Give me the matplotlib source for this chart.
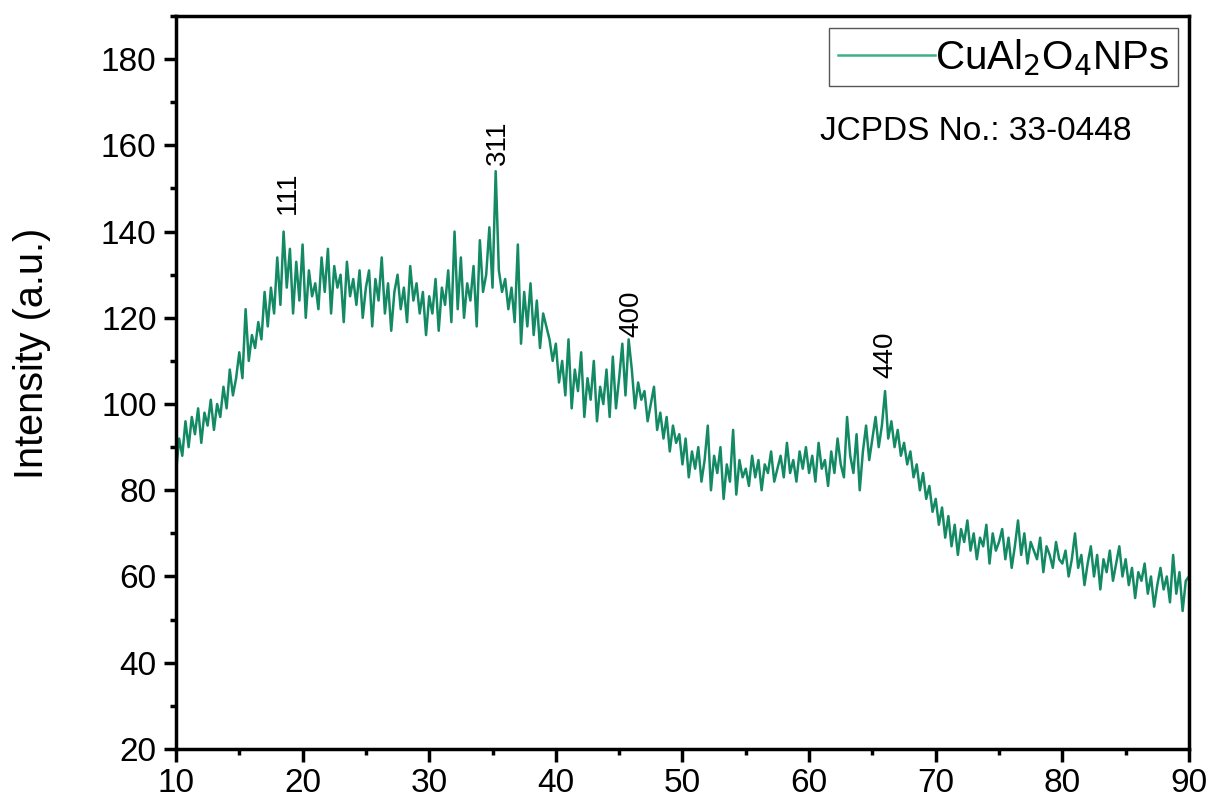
import numpy as np
import matplotlib.pyplot as plt
from matplotlib.ticker import MultipleLocator

plt.rcParams['font.family'] = ['Liberation Sans', 'DejaVu Sans']

# 2theta grid, 0.25 deg step from 10 to 90
two_theta = np.arange(10, 90.001, 0.25)

# intensity, one row per 5 degrees
intensity = [
    84, 92, 88, 96, 90, 97, 93, 99, 91, 98, 95, 101, 94, 100, 97, 104, 99, 108, 102, 106,
    112, 106, 122, 110, 116, 113, 119, 115, 126, 118, 127, 121, 134, 123, 140, 127, 136, 121, 133, 124,
    137, 120, 131, 125, 128, 122, 134, 126, 136, 121, 132, 127, 130, 119, 133, 125, 129, 123, 131, 120,
    127, 131, 118, 129, 124, 134, 121, 128, 117, 126, 130, 122, 127, 119, 132, 124, 128, 121, 126, 116,
    125, 121, 129, 117, 127, 123, 131, 119, 140, 122, 134, 120, 128, 124, 132, 118, 138, 126, 130, 141,
    127, 154, 131, 126, 129, 122, 127, 119, 137, 114, 126, 118, 128, 116, 124, 113, 121, 118, 115, 110,
    114, 105, 110, 102, 115, 99, 108, 103, 112, 97, 106, 101, 110, 96, 104, 100, 108, 97, 111, 99,
    106, 114, 102, 115, 108, 99, 105, 101, 103, 96, 100, 104, 94, 98, 92, 97, 89, 95, 91, 93,
    86, 92, 83, 89, 85, 90, 82, 87, 95, 80, 88, 84, 90, 78, 86, 82, 94, 79, 87, 83,
    85, 81, 88, 83, 87, 80, 86, 84, 89, 82, 85, 88, 83, 91, 84, 87, 82, 89, 85, 90,
    84, 88, 82, 91, 85, 87, 81, 89, 84, 92, 86, 83, 97, 88, 84, 93, 80, 89, 95, 87,
    92, 97, 90, 95, 103, 92, 96, 90, 94, 88, 91, 86, 89, 83, 86, 80, 84, 78, 81, 75,
    78, 72, 76, 69, 74, 67, 72, 65, 71, 68, 73, 66, 70, 64, 69, 67, 72, 63, 70, 66,
    68, 71, 64, 69, 62, 67, 73, 65, 70, 63, 68, 66, 64, 69, 61, 67, 65, 62, 68, 64,
    63, 66, 60, 64, 70, 62, 65, 58, 63, 67, 60, 65, 57, 64, 61, 66, 59, 63, 67, 60,
    64, 58, 62, 55, 61, 59, 63, 56, 60, 53, 58, 62, 57, 60, 54, 65, 56, 61, 52, 59,
    60,
]

# peak labels (hkl) and where they sit
peak_hkl = ['111', '311', '400', '440']
peak_x = [18.85, 35.4, 46.0, 66.0]
peak_y = [144, 155.5, 115.5, 106]

fig = plt.figure(figsize=(12.11, 8.01), dpi=100)
ax = fig.add_axes([0.1453, 0.065, 0.8365, 0.915])

ax.plot(two_theta, intensity, color='#138a63', lw=1.8, label=r'CuAl$_2$O$_4$NPs')

for h, px, py in zip(peak_hkl, peak_x, peak_y):
    ax.text(px, py, h, rotation=90, ha='center', va='bottom', fontsize=20)

ax.text(0.636, 0.843, 'JCPDS No.: 33-0448', transform=ax.transAxes, fontsize=24,
        ha='left', va='center')

ax.set_xlim(10, 90)
ax.set_ylim(20, 190)
ax.xaxis.set_major_locator(MultipleLocator(10))
ax.xaxis.set_minor_locator(MultipleLocator(5))
ax.yaxis.set_minor_locator(MultipleLocator(10))
ax.set_yticks(np.arange(20, 181, 20))

ax.tick_params(which='major', direction='out', length=9, width=2.5, labelsize=24, pad=5)
ax.tick_params(which='minor', direction='out', length=4.5, width=2.5)
for s in ax.spines.values():
    s.set_linewidth(2.5)

ax.set_ylabel('Intensity (a.u.)', fontsize=28.5)
ax.yaxis.set_label_coords(-0.123, 0.54)

leg = ax.legend(loc='upper right', bbox_to_anchor=(0.989, 0.9836), borderaxespad=0,
                fontsize=29, handlelength=2.4, handletextpad=0.0, borderpad=0.22,
                fancybox=False, framealpha=1)
leg.get_frame().set_edgecolor('#555555')
leg.get_frame().set_linewidth(1.0)
leg.get_lines()[0].set_color('#3cb08c')

fig.savefig('out.png', dpi=100)
